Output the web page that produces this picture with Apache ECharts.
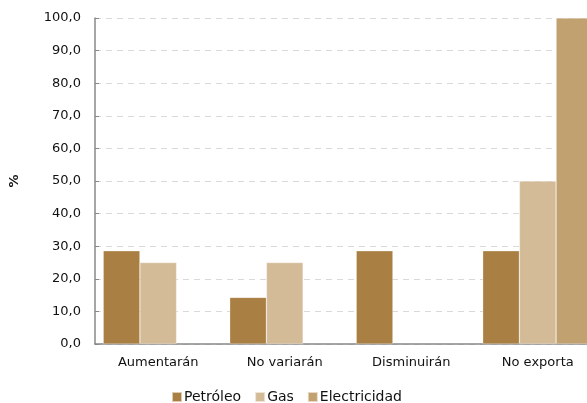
<!DOCTYPE html>
<html><head><meta charset="utf-8">
<script src="https://cdn.jsdelivr.net/npm/echarts@6/dist/echarts.min.js"></script>
<style>html,body{margin:0;padding:0;background:#fff;overflow:hidden;width:587px;height:403px}#c{width:601px;height:403px}</style>
</head><body><div id="c"></div>
<script>
const categories = ['Aumentarán', 'No variarán', 'Disminuirán', 'No exporta'];
const petroleo = [28.6, 14.3, 28.6, 28.6];
const gas = [25.0, 25.0, 0, 50.0];
const electricidad = [0, 0, 0, 100.0];
const yTicks = [0, 10, 20, 30, 40, 50, 60, 70, 80, 90, 100];

const font = 'DejaVu Sans, Verdana, sans-serif';
const chart = echarts.init(document.getElementById('c'), null, {renderer: 'canvas'});
const mk = (name, data, color) => ({
  name, type: 'bar', data: data.map(v => v === 0 ? null : v), barWidth: '29%', barGap: '0%',
  itemStyle: {color, borderColor: 'rgba(255,255,255,0.6)', borderWidth: 0.5},
  animation: false
});
chart.setOption({
  animation: false,
  textStyle: {fontFamily: font},
  grid: {left: 92, top: 18, bottom: 59, right: 0, containLabel: false},
  legend: {
    top: 385, left: 166, itemWidth: 10, itemHeight: 10, itemGap: 13,
    icon: 'rect',
    textStyle: {fontFamily: font, fontSize: 14, color: '#111', padding: [0, 0, 0, -3]},
    data: ['Petróleo', 'Gas', 'Electricidad']
  },
  xAxis: {
    type: 'category', data: categories,
    axisLine: {lineStyle: {color: '#888', width: 1.5}},
    axisTick: {inside: true, length: 4, lineStyle: {color: '#888'}},
    axisLabel: {fontFamily: font, fontSize: 13, color: '#111', margin: 12}
  },
  yAxis: {
    type: 'value', min: 0, max: 100, interval: 10,
    name: '%', nameLocation: 'middle', nameGap: 74, nameRotate: 90,
    nameTextStyle: {fontFamily: font, fontSize: 13, fontWeight: 'bold', color: '#111'},
    axisLine: {show: true, lineStyle: {color: '#888', width: 1.5}},
    axisTick: {show: true, inside: true, length: 4, lineStyle: {color: '#888'}},
    splitLine: {lineStyle: {color: '#d9d9d9', type: [6, 5], width: 1}},
    axisLabel: {fontFamily: font, fontSize: 13, color: '#111', margin: 14,
      formatter: v => yTicks.includes(v) ? v.toFixed(1).replace('.', ',') : ''}
  },
  series: [
    mk('Petróleo', petroleo, '#AA7F43'),
    mk('Gas', gas, '#D3BB98'),
    mk('Electricidad', electricidad, '#C2A170')
  ]
});
</script></body></html>
